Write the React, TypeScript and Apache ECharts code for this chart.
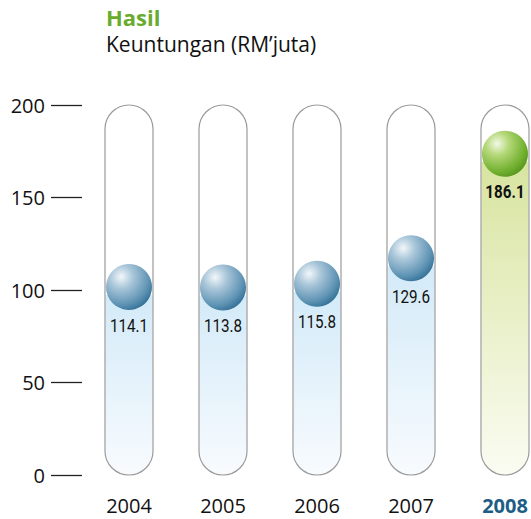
import React, { useEffect, useRef } from "react";
import * as echarts from "echarts";

const years = ["2004", "2005", "2006", "2007", "2008"];
const profits = [114.1, 113.8, 115.8, 129.6, 186.1];
const yTicks = [0, 50, 100, 150, 200];
const highlightYear = "2008";

const BLUE = {
  fillTop: "#d3eaf8",
  fillBottom: "#f8fbfe",
  ball: ["#f2f7fa", "#a9c6d9", "#5d92b3", "#22628a"],
};
const GREEN = {
  fillTop: "#d8e4a0",
  fillBottom: "#fbfcf2",
  ball: ["#f3f9e6", "#b4d878", "#72b030", "#4c8c18"],
};

export default function App() {
  const ref = useRef<HTMLDivElement>(null);
  useEffect(() => {
    document.body.style.margin = "0";
    document.body.style.overflow = "hidden";
    if (!ref.current) return;
    const chart = echarts.init(ref.current, null, { renderer: "svg" });
    const yMax = yTicks[yTicks.length - 1];
    chart.setOption({
      animation: false,
      title: {
        text: "Hasil",
        subtext: "Keuntungan (RM’juta)",
        left: 101,
        top: 1,
        itemGap: 5,
        textStyle: { fontFamily: "Open Sans", fontSize: 22, fontWeight: "bold", color: "#6aab2e" },
        subtextStyle: { fontFamily: "Open Sans", fontSize: 21, color: "#111" },
      },
      grid: { left: 129, right: 26, top: 105, bottom: 44 },
      xAxis: {
        type: "category",
        data: years,
        boundaryGap: false,
        axisLine: { show: false },
        axisTick: { show: false },
        axisLabel: {
          interval: 0,
          margin: 20,
          fontFamily: "Open Sans",
          fontSize: 20,
          color: "#111",
          formatter: (v: string) => (v === highlightYear ? `{hl|${v}}` : v),
          rich: {
            hl: { fontFamily: "Open Sans", fontSize: 20, fontWeight: "bold", color: "#1d5e86" },
          },
        },
      },
      yAxis: {
        type: "value",
        min: yTicks[0],
        max: yMax,
        interval: 50,
        offset: 47,
        axisLine: { show: false },
        splitLine: { show: false },
        axisTick: { show: true, length: 31, lineStyle: { color: "#222", width: 1.3 } },
        axisLabel: { margin: 37, fontFamily: "Open Sans", fontSize: 20, color: "#111" },
      },
      series: [
        {
          type: "custom",
          data: profits.map((v, i) => [i, v]),
          renderItem: (params: any, api: any) => {
            const i = api.value(0);
            const val = api.value(1);
            const [x, y0] = api.coord([i, 0]);
            const yTop = api.coord([i, yMax])[1];
            const yv = api.coord([i, val])[1];
            const R = 23;
            const half = 24;
            const cy = yv + R;
            const pal = years[i] === highlightYear ? GREEN : BLUE;
            const fillTop = cy + 8;
            return {
              type: "group",
              children: [
                {
                  type: "rect",
                  shape: { x: x - half + 0.5, y: fillTop, width: half * 2 - 1, height: y0 - fillTop, r: [0, 0, half, half] },
                  style: {
                    fill: new echarts.graphic.LinearGradient(0, 0, 0, 1, [
                      { offset: 0, color: pal.fillTop },
                      { offset: 1, color: pal.fillBottom },
                    ]),
                  },
                },
                {
                  type: "rect",
                  shape: { x: x - half, y: yTop, width: half * 2, height: y0 - yTop, r: half },
                  style: { fill: "none", stroke: "#9b9b9b", lineWidth: 1.2 },
                },
                {
                  type: "circle",
                  shape: { cx: x, cy, r: R },
                  style: {
                    fill: new echarts.graphic.RadialGradient(0.33, 0.28, 0.85, [
                      { offset: 0, color: pal.ball[0] },
                      { offset: 0.3, color: pal.ball[1] },
                      { offset: 0.72, color: pal.ball[2] },
                      { offset: 1, color: pal.ball[3] },
                    ]),
                  },
                },
                {
                  type: "text",
                  x,
                  y: cy + 38,
                  scaleX: 0.8,
                  style: {
                    x: 0,
                    y: 0,
                    text: val.toFixed(1),
                    align: "center",
                    verticalAlign: "middle",
                    fontFamily: "Roboto, sans-serif",
                    fontSize: 19,
                    fontWeight: years[i] === highlightYear ? "bold" : "normal",
                    fill: "#111",
                  },
                },
              ],
            };
          },
        },
      ],
    });
    return () => chart.dispose();
  }, []);
  return <div ref={ref} style={{ position: "absolute", left: 0, top: 0, width: 531, height: 519 }} />;
}
